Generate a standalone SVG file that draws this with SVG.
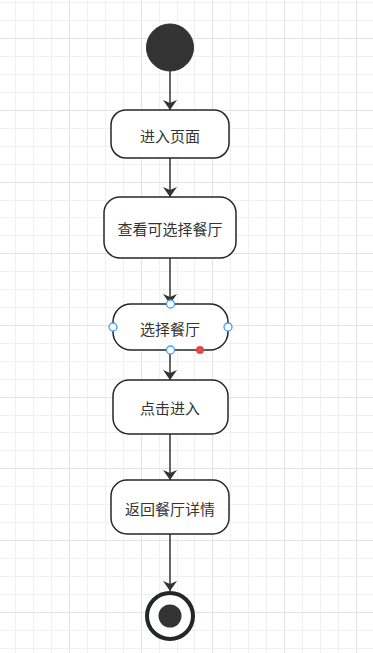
<svg xmlns="http://www.w3.org/2000/svg" width="373" height="653" viewBox="0 0 373 653">
<defs>
<style>
.minor{stroke:#f0f0f0;stroke-width:1}
.major{stroke:#e4e4e4;stroke-width:1}
.node{fill:#ffffff;stroke:#23272b;stroke-width:1.5}
.lbl{font-family:"Noto Sans CJK SC","Liberation Sans",sans-serif;font-size:15px;fill:#333333;text-anchor:middle;dominant-baseline:central}
.edge{stroke:#333333;stroke-width:1.5;fill:none;marker-end:url(#arr)}
.handle{fill:#ffffff;stroke:#4a9df0;stroke-width:1.3}
</style>
<marker id="arr" viewBox="0 0 10 14" refX="10" refY="7" markerWidth="10" markerHeight="14" markerUnits="userSpaceOnUse" orient="auto">
<path d="M0,0 L10,7 L0,14 L3,7 Z" fill="#333333"/>
</marker>
</defs>
<rect width="373" height="653" fill="#ffffff"/>
<g id="grid">
<path class="minor" d="M15.5,0V653M33.5,0V653M51.5,0V653M87.5,0V653M105.5,0V653M123.5,0V653M159.5,0V653M177.5,0V653M194.5,0V653M230.5,0V653M248.5,0V653M266.5,0V653M302.5,0V653M320.5,0V653M338.5,0V653"/>
<path class="major" d="M69.5,0V653M141.5,0V653M212.5,0V653M284.5,0V653M356.5,0V653"/>
<path class="minor" d="M0,2.5H373M0,20.5H373M0,56.5H373M0,74.5H373M0,92.5H373M0,128.5H373M0,146.5H373M0,164.5H373M0,200.5H373M0,217.5H373M0,235.5H373M0,271.5H373M0,289.5H373M0,307.5H373M0,343.5H373M0,361.5H373M0,379.5H373M0,415.5H373M0,432.5H373M0,450.5H373M0,486.5H373M0,504.5H373M0,522.5H373M0,558.5H373M0,576.5H373M0,594.5H373M0,630.5H373M0,648.5H373"/>
<path class="major" d="M0,38.5H373M0,110.5H373M0,182.5H373M0,253.5H373M0,325.5H373M0,397.5H373M0,468.5H373M0,540.5H373M0,612.5H373"/>
</g>
<g id="connectors">
<line class="edge" x1="170" y1="71" x2="170" y2="110"/>
<line class="edge" x1="170" y1="158" x2="170" y2="197"/>
<line class="edge" x1="170" y1="258" x2="170" y2="304"/>
<line class="edge" x1="170" y1="350" x2="170" y2="380"/>
<line class="edge" x1="170" y1="434" x2="170" y2="480"/>
<line class="edge" x1="170" y1="534" x2="170" y2="591"/>
</g>
<g id="start">
<circle cx="170" cy="47.5" r="23.5" fill="#333333" stroke="#2b2b2b" stroke-width="1"/>
</g>
<g id="n1">
<rect class="node" x="111" y="110" width="118" height="48" rx="15"/>
<text class="lbl" x="170" y="135">进入页面</text>
</g>
<g id="n2">
<rect class="node" x="104" y="197" width="132" height="61" rx="16"/>
<text class="lbl" x="170" y="228">查看可选择餐厅</text>
</g>
<g id="n3">
<rect class="node" x="113" y="304" width="115" height="46" rx="18"/>
<text class="lbl" x="170" y="328">选择餐厅</text>
<circle class="handle" cx="170.5" cy="304" r="4"/>
<circle class="handle" cx="113" cy="327" r="4"/>
<circle class="handle" cx="228" cy="327" r="4"/>
<circle class="handle" cx="170.5" cy="350" r="4"/>
<circle cx="200" cy="350" r="4" fill="#e5484d"/>
</g>
<g id="n4">
<rect class="node" x="113" y="380" width="115" height="54" rx="16"/>
<text class="lbl" x="170" y="407.5">点击进入</text>
</g>
<g id="n5">
<rect class="node" x="111" y="480" width="118" height="54" rx="16"/>
<text class="lbl" x="170" y="508">返回餐厅详情</text>
</g>
<g id="end">
<circle cx="170" cy="616" r="23" fill="#ffffff" stroke="#23272b" stroke-width="4"/>
<circle cx="170" cy="616" r="11.5" fill="#333333"/>
</g>
</svg>
